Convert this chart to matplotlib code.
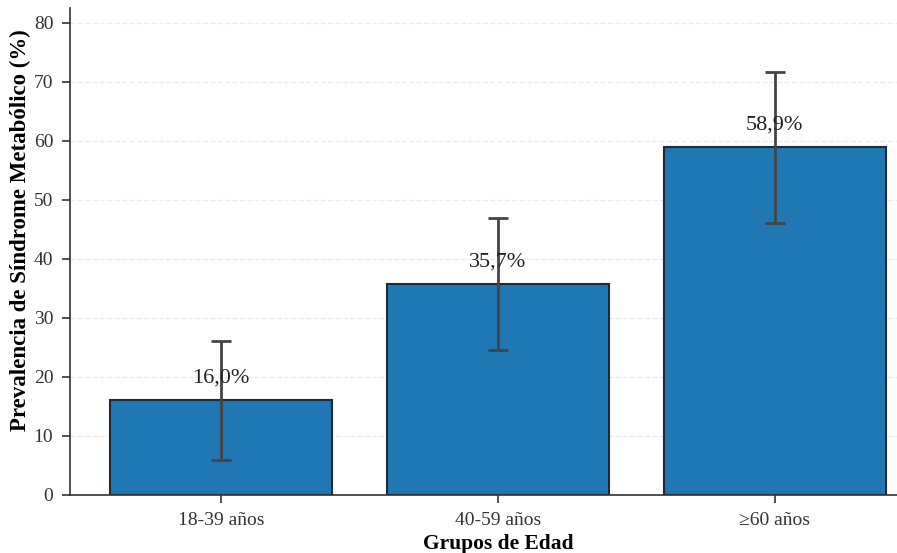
import matplotlib
matplotlib.use("Agg")
import matplotlib.pyplot as plt

# Prevalencia por grupo de edad
grupos = ["18-39 años", "40-59 años", "≥60 años"]
prevalencia = [16.0, 35.7, 58.9]
error = [10.1, 11.2, 12.8]

plt.rcParams["font.family"] = ["Liberation Serif", "DejaVu Serif"]

fig = plt.figure(figsize=(8.97, 5.53), dpi=100)
ax = fig.add_axes([0.078, 0.105, 0.954, 0.881])

x = range(len(grupos))
ax.bar(x, prevalencia, width=0.8, color="#1f77b4", edgecolor="#1f2a36",
       linewidth=1.5, zorder=2)
ax.errorbar(x, prevalencia, yerr=error, fmt="none", ecolor="#444444",
            elinewidth=2, capsize=7, capthick=2, zorder=3)

for xi, v in zip(x, prevalencia):
    ax.text(xi, v + 2.2, f"{v:.1f}%".replace(".", ","), ha="center",
            va="bottom", fontsize=16, color="#222222", zorder=4)

ax.set_xlim(-0.545, 2.545)
ax.set_ylim(0, 82.5)
ax.set_yticks(range(0, 81, 10))
ax.set_xticks(list(x))
ax.set_xticklabels(grupos)
ax.tick_params(axis="both", labelsize=14, colors="#333333", length=6,
               width=1.2, pad=6)

ax.set_xlabel("Grupos de Edad", fontsize=15.5, fontweight="bold",
              labelpad=4)
ax.set_ylabel("Prevalencia de Síndrome Metabólico (%)", fontsize=16.5,
              fontweight="bold")
# la etiqueta del eje y queda un poco por encima del centro
ax.yaxis.set_label_coords(-0.045, 0.544)

ax.grid(axis="y", ls="--", color="#e4e8ec", alpha=0.8, lw=1, zorder=5)
for s in ["top", "right"]:
    ax.spines[s].set_visible(False)
for s in ["left", "bottom"]:
    ax.spines[s].set_color("#333333")
    ax.spines[s].set_linewidth(1.2)

fig.savefig("out.png", dpi=100)
